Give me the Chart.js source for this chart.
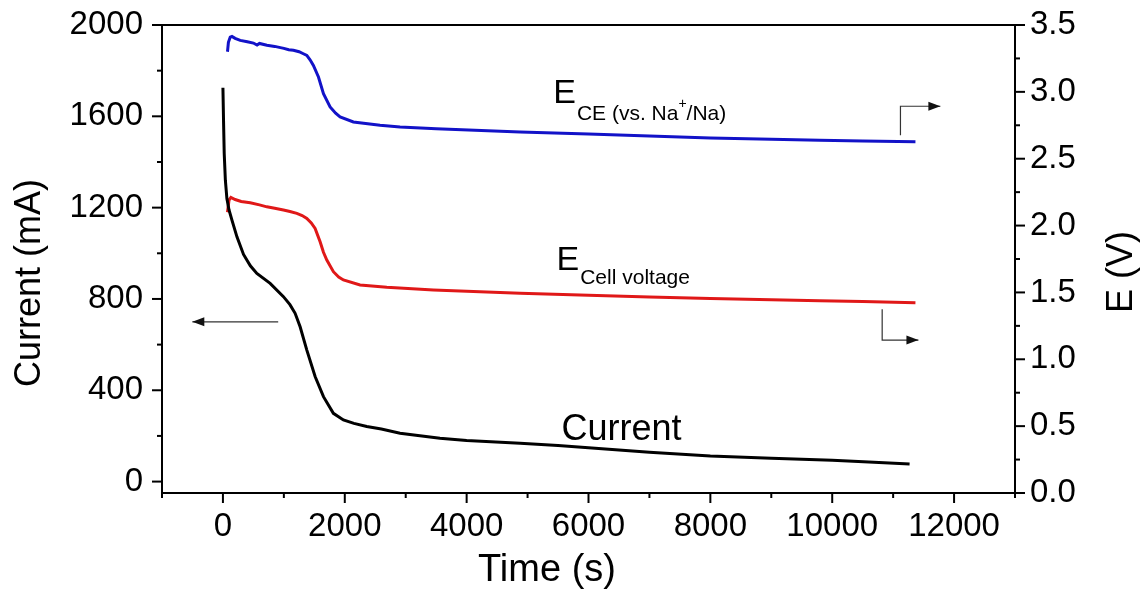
<!DOCTYPE html>
<html>
<head>
<meta charset="utf-8">
<script src="https://cdn.jsdelivr.net/npm/chart.js@4.4.1/dist/chart.umd.min.js"></script>
<style>
  html, body { margin: 0; padding: 0; background: #fff; }
  #wrap { width: 1143px; height: 599px; }
</style>
</head>
<body>
<div id="wrap"><canvas id="chart"></canvas></div>
<script>
const FONT = "'Liberation Sans', Arial, Helvetica, sans-serif";

// ===== Data =====
// Current (mA) vs time (s), left axis
const currentTime   = [0, 10, 21, 40, 65, 100, 148, 230, 338, 450, 557, 775, 993, 1100, 1185, 1267, 1377, 1513, 1650, 1813, 1977, 2150, 2361, 2600, 2907, 3200, 3562, 4000, 4877, 5500, 6000, 7000, 8000, 9000, 10000, 10600, 11270];
const currentValues = [1725, 1580, 1438, 1320, 1240, 1190, 1145, 1072, 995, 945, 912, 868, 810, 775, 737, 678, 576, 460, 372, 299, 270, 255, 241, 230, 212, 202, 190, 180, 168, 158, 148, 128, 112, 102, 93, 86, 77];

// E_CE vs Na+/Na (V), right axis
const ceTime   = [75, 90, 120, 148, 200, 284, 400, 500, 560, 600, 721, 850, 1000, 1080, 1157, 1250, 1320, 1377, 1430, 1485, 1568, 1650, 1759, 1850, 1923, 2141, 2579, 2907, 3500, 4877, 6000, 7000, 8000, 9000, 9795, 10500, 11366];
const ceValues = [3.30, 3.37, 3.41, 3.415, 3.40, 3.385, 3.375, 3.365, 3.35, 3.362, 3.348, 3.34, 3.325, 3.315, 3.311, 3.30, 3.285, 3.273, 3.24, 3.198, 3.111, 2.987, 2.887, 2.84, 2.813, 2.775, 2.750, 2.738, 2.725, 2.700, 2.685, 2.670, 2.655, 2.645, 2.638, 2.632, 2.626];

// E_cell voltage (V), right axis
const cellTime   = [75, 100, 131, 200, 300, 448, 600, 721, 850, 993, 1100, 1213, 1300, 1377, 1450, 1513, 1595, 1650, 1705, 1813, 1900, 1977, 2251, 2689, 3454, 4877, 6000, 7000, 8000, 9000, 9795, 10500, 11366];
const cellValues = [2.10, 2.19, 2.211, 2.195, 2.18, 2.170, 2.155, 2.140, 2.13, 2.116, 2.105, 2.091, 2.075, 2.054, 2.02, 1.979, 1.879, 1.80, 1.742, 1.655, 1.615, 1.593, 1.556, 1.538, 1.518, 1.494, 1.478, 1.465, 1.455, 1.445, 1.438, 1.432, 1.423];

// tick labels
const xTicks = [0, 2000, 4000, 6000, 8000, 10000, 12000];
const xMinor = [-1000, 1000, 3000, 5000, 7000, 9000, 11000, 13000];
const leftTicks = [0, 400, 800, 1200, 1600, 2000];
const leftMinor = [200, 600, 1000, 1400, 1800];
const rightTicks = [0, 0.5, 1, 1.5, 2, 2.5, 3, 3.5];
const rightMinor = [0.25, 0.75, 1.25, 1.75, 2.25, 2.75, 3.25];

const pts = (xs, ys) => xs.map((x, i) => ({ x, y: ys[i] }));
const asTicks = arr => s => { s.ticks = arr.map(v => ({ value: v })); };
const fitV = w => s => { s.width = w; s.paddingTop = 0; s.paddingBottom = 0; };

// annotation anchors in data units (x: s, y: left axis mA)
const notes = {
  ce:      { x: 5421, y: 1657 },
  cell:    { x: 5475, y: 926 },
  current: { x: 5557, y: 182 },
  arrowLeft: [{ x: 907, y: 700 }, { x: -502, y: 700 }],
  arrowCE:   [{ x: 11120, y: 1517 }, { x: 11120, y: 1644 }, { x: 11775, y: 1644 }],
  arrowCell: [{ x: 10820, y: 755 }, { x: 10820, y: 620 }, { x: 11415, y: 620 }],
};

function arrow(ctx, P) {
  ctx.save();
  ctx.strokeStyle = '#333';
  ctx.lineWidth = 1.2;
  ctx.beginPath();
  ctx.moveTo(P[0][0], P[0][1]);
  for (let i = 1; i < P.length; i++) ctx.lineTo(P[i][0], P[i][1]);
  ctx.stroke();
  const [x1, y1] = P[P.length - 2], [x2, y2] = P[P.length - 1];
  const a = Math.atan2(y2 - y1, x2 - x1);
  ctx.translate(x2, y2);
  ctx.rotate(a);
  ctx.fillStyle = '#111';
  ctx.beginPath();
  ctx.moveTo(0, 0);
  ctx.lineTo(-12, -4.5);
  ctx.lineTo(-12, 4.5);
  ctx.closePath();
  ctx.fill();
  ctx.restore();
}

const framePlugin = {
  id: 'frame',
  afterDraw(chart) {
    const { ctx, chartArea: ca, scales } = chart;
    const X = v => scales.x.getPixelForValue(v);
    const Y = v => scales.y.getPixelForValue(v);
    const Y1 = v => scales.y1.getPixelForValue(v);
    ctx.save();
    ctx.strokeStyle = '#000';
    ctx.lineWidth = 2;
    // top frame line
    ctx.beginPath();
    ctx.moveTo(ca.left - 1, ca.top);
    ctx.lineTo(ca.right + 1, ca.top);
    ctx.stroke();
    // tick marks
    const tick = (x1, y1, x2, y2) => { ctx.beginPath(); ctx.moveTo(x1, y1); ctx.lineTo(x2, y2); ctx.stroke(); };
    xTicks.forEach(v => tick(X(v), ca.bottom, X(v), ca.bottom + 10));
    xMinor.forEach(v => tick(X(v), ca.bottom, X(v), ca.bottom + 5));
    leftTicks.forEach(v => tick(ca.left, Y(v), ca.left - 10, Y(v)));
    leftMinor.forEach(v => tick(ca.left, Y(v), ca.left - 5, Y(v)));
    rightTicks.forEach(v => tick(ca.right, Y1(v), ca.right + 10, Y1(v)));
    rightMinor.forEach(v => tick(ca.right, Y1(v), ca.right + 5, Y1(v)));

    // axis titles
    ctx.fillStyle = '#000';
    ctx.textAlign = 'center';
    ctx.textBaseline = 'middle';
    ctx.font = `38px ${FONT}`;
    ctx.fillText('Time (s)', 547, 571);
    ctx.font = `36px ${FONT}`;
    ctx.save();
    ctx.translate(30, 283);
    ctx.rotate(-Math.PI / 2);
    ctx.fillText('Current (mA)', 0, 0);
    ctx.restore();
    ctx.save();
    ctx.translate(1122, 272);
    ctx.rotate(-Math.PI / 2);
    ctx.fillText('E (V)', 0, 0);
    ctx.restore();

    // curve labels
    ctx.textAlign = 'left';
    ctx.textBaseline = 'alphabetic';
    let x = X(notes.ce.x), y = Y(notes.ce.y);
    ctx.font = `34px ${FONT}`;
    ctx.fillText('E', x, y);
    x += ctx.measureText('E').width + 1;
    ctx.font = `21px ${FONT}`;
    ctx.fillText('CE (vs. Na', x, y + 17);
    x += ctx.measureText('CE (vs. Na').width;
    ctx.font = `14px ${FONT}`;
    ctx.fillText('+', x, y + 5);
    x += ctx.measureText('+').width;
    ctx.font = `21px ${FONT}`;
    ctx.fillText('/Na)', x, y + 17);

    x = X(notes.cell.x); y = Y(notes.cell.y);
    ctx.font = `34px ${FONT}`;
    ctx.fillText('E', x, y);
    x += ctx.measureText('E').width + 1;
    ctx.font = `21px ${FONT}`;
    ctx.fillText('Cell voltage', x, y + 14);

    ctx.font = `36px ${FONT}`;
    ctx.fillText('Current', X(notes.current.x), Y(notes.current.y));

    const toPx = arr => arr.map(p => [X(p.x), Y(p.y)]);
    arrow(ctx, toPx(notes.arrowLeft));
    arrow(ctx, toPx(notes.arrowCE));
    arrow(ctx, toPx(notes.arrowCell));
    ctx.restore();
  }
};

const lineStyle = color => ({
  borderColor: color, backgroundColor: color, borderWidth: 3,
  pointRadius: 0, tension: 0, fill: false,
});

new Chart(document.getElementById('chart'), {
  type: 'line',
  data: {
    datasets: [
      { label: 'Current', data: pts(currentTime, currentValues), yAxisID: 'y', ...lineStyle('#000000') },
      { label: 'E CE', data: pts(ceTime, ceValues), yAxisID: 'y1', ...lineStyle('#1212c8') },
      { label: 'E Cell voltage', data: pts(cellTime, cellValues), yAxisID: 'y1', ...lineStyle('#e01818') },
    ]
  },
  options: {
    responsive: true,
    maintainAspectRatio: false,
    animation: false,
    layout: { padding: { top: 25, left: 0, right: 0, bottom: 0 } },
    plugins: { legend: { display: false }, tooltip: { enabled: false } },
    scales: {
      x: {
        type: 'linear', min: -1000, max: 13000,
        afterBuildTicks: asTicks(xTicks),
        afterFit: s => { s.height = 106; s.paddingLeft = 0; s.paddingRight = 0; },
        grid: { drawOnChartArea: false, drawTicks: false },
        border: { color: '#000', width: 2 },
        ticks: { color: '#000', font: { family: FONT, size: 33 }, padding: 14, maxRotation: 0, autoSkip: false, callback: v => String(v) }
      },
      y: {
        type: 'linear', position: 'left', min: -50, max: 2000,
        afterBuildTicks: asTicks(leftTicks),
        afterFit: fitV(162),
        grid: { drawOnChartArea: false, drawTicks: false },
        border: { color: '#000', width: 2 },
        ticks: { color: '#000', font: { family: FONT, size: 33 }, padding: 19, autoSkip: false, callback: v => String(v) }
      },
      y1: {
        type: 'linear', position: 'right', min: 0, max: 3.5,
        afterBuildTicks: asTicks(rightTicks),
        afterFit: fitV(128),
        grid: { drawOnChartArea: false, drawTicks: false },
        border: { color: '#000', width: 2 },
        ticks: { color: '#000', font: { family: FONT, size: 33 }, padding: 15, autoSkip: false, callback: v => v.toFixed(1) }
      }
    }
  },
  plugins: [framePlugin]
});
</script>
</body>
</html>
